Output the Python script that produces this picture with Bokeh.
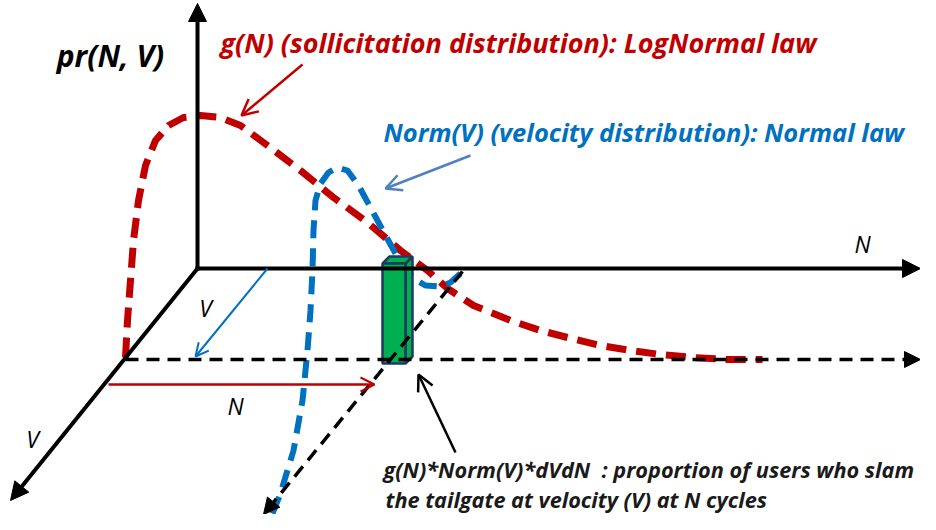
from bokeh.plotting import figure
from bokeh.models import Range1d, Arrow, NormalHead, OpenHead
from bokeh.core.properties import value
from bokeh.embed import file_html
from bokeh.resources import INLINE

# ---- diagram data (screen-like coordinates) ----
# LogNormal g(N) curve
red_x = [125, 127, 130, 133, 138, 145, 155, 168, 183, 200, 220, 240, 267, 300, 333, 367, 400, 427, 447, 473, 510, 540, 567, 600, 630, 660, 693, 727, 762]
red_y = [357, 320, 280, 240, 200, 165, 140, 125, 117, 115, 117, 125, 145, 170, 197, 222, 250, 270, 288, 305, 320, 330, 337, 345, 350, 354, 357, 359, 359]
# Normal Norm(V) curve
blue_x = [460, 450, 440, 425, 413, 400, 385, 370, 358, 347, 337, 328, 320, 315, 313, 312, 310, 307, 302, 293, 280, 272, 268]
blue_y = [273, 282, 286, 285, 278, 262, 235, 207, 185, 170, 167, 172, 183, 200, 230, 270, 310, 350, 400, 450, 493, 513, 518]

# axes: (x_start, y_start, x_end, y_end)
axis_pr = (197, 270, 197, 3)
axis_n = (195, 268, 920, 268)
axis_v = (197, 268, 10, 500)
dash_n = (125, 359, 920, 359)
dash_v = (462, 271, 263, 514)

# small arrows
arrow_v = (267, 268, 195, 356)
arrow_n = (108, 384, 374, 384)
arrow_red = (302, 64, 241, 115)
arrow_blue = (470, 155, 385, 188)
arrow_black = (455, 452, 418, 374)

# 3D bar: front face and depth offset
bar_left, bar_right, bar_top, bar_bottom = 382, 405, 263, 363
bar_dx, bar_dy = 7, -7

labels = {
    "pr": "pr(N, V)",
    "red": "g(N) (sollicitation distribution): LogNormal law",
    "blue": "Norm(V) (velocity distribution): Normal law",
    "ann1": "g(N)*Norm(V)*dVdN\u00a0\u00a0: proportion of users who slam",
    "ann2": "the tailgate at velocity (V) at N cycles",
}

RED = "#c00000"
BLUE = "#0070c0"
FONT = value("Open Sans")

p = figure(width=920, height=514, output_backend="svg", toolbar_location=None,
           x_range=Range1d(0, 920), y_range=Range1d(514, 0), min_border=0)
p.axis.visible = False
p.grid.visible = False
p.outline_line_color = None
p.background_fill_color = "white"


def arrow(seg, color, width, head, dash="solid"):
    x0, y0, x1, y1 = seg
    p.add_layout(Arrow(end=head, x_start=x0, y_start=y0, x_end=x1, y_end=y1,
                       line_color=color, line_width=width, line_dash=dash))


def filled(color, size=16):
    return NormalHead(size=size, fill_color=color, line_color=color)


def opened(color, size=14, w=2):
    return OpenHead(size=size, line_color=color, line_width=w)


# main axes
arrow(axis_pr, "black", 4, filled("black", 18))
arrow(axis_n, "black", 4, filled("black", 18))
arrow(axis_v, "black", 4, filled("black", 18))
arrow(dash_n, "black", 3.5, filled("black", 16), "13 8")
arrow(dash_v, "black", 3.5, filled("black", 16), "13 8")

# curves
p.line(red_x, red_y, line_color=RED, line_width=7, line_dash="20 10")
p.line(blue_x, blue_y, line_color=BLUE, line_width=6, line_dash="18 10")

# 3D bar
green = "#00b050"
navy = "#1f3864"
front_x = [bar_left, bar_right, bar_right, bar_left]
front_y = [bar_top, bar_top, bar_bottom, bar_bottom]
top_x = [bar_left, bar_left + bar_dx, bar_right + bar_dx, bar_right]
top_y = [bar_top, bar_top + bar_dy, bar_top + bar_dy, bar_top]
side_x = [bar_right, bar_right + bar_dx, bar_right + bar_dx, bar_right]
side_y = [bar_top, bar_top + bar_dy, bar_bottom + bar_dy, bar_bottom]
p.patches([side_x, top_x, front_x], [side_y, top_y, front_y],
          fill_color=green, line_color=navy, line_width=2.5)

# small arrows
arrow(arrow_v, BLUE, 2, opened(BLUE, 13))
arrow(arrow_n, RED, 2.5, opened(RED, 14))
arrow(arrow_red, RED, 2.5, opened(RED, 16, 2.5))
arrow(arrow_blue, "#4f81bd", 2.5, opened("#4f81bd", 16, 2.5))
arrow(arrow_black, "black", 2.5, opened("black", 16, 2.5))

# texts
def txt(x, y, t, color, size, style="bold italic", align="left"):
    p.text([x], [y], text=[t], text_color=color, text_font=FONT,
           text_font_size=size, text_font_style=style,
           text_align=align, text_baseline="middle")

txt(110, 55, labels["pr"], "black", "30px", align="center")
txt(220, 42, labels["red"], RED, "27px")
txt(383, 131, labels["blue"], BLUE, "25.5px")
txt(862, 243, "N", "black", "23px", "italic", "center")
txt(205, 307, "V", "black", "23px", "italic", "center")
txt(235, 405, "N", "black", "23px", "italic", "center")
txt(32, 438, "V", "black", "23px", "italic", "center")
txt(383, 469, labels["ann1"], "#1a1a1a", "21.7px")
txt(385, 499, labels["ann2"], "#1a1a1a", "21.7px")

open("out.html", "w").write(file_html(p, INLINE))
